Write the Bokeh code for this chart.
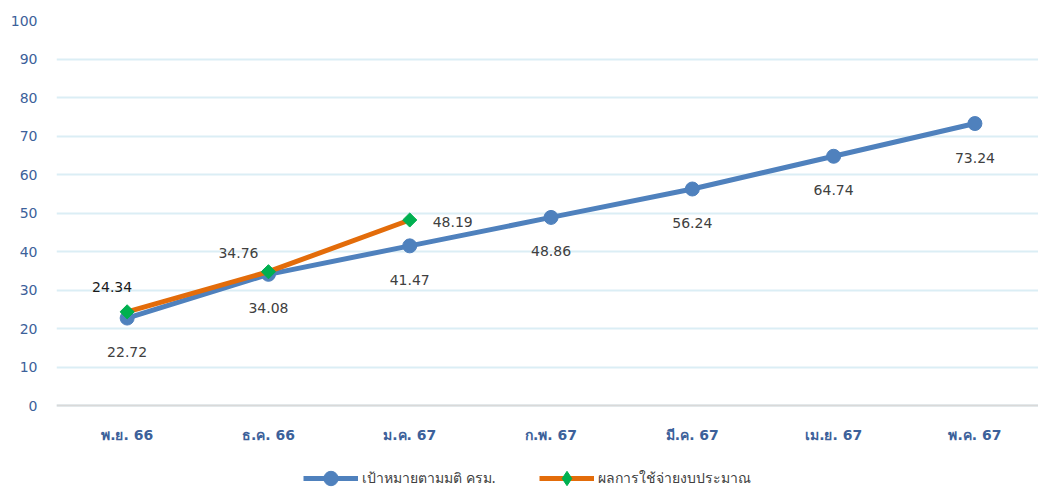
import numpy as np
from bokeh.plotting import figure
from bokeh.models import Range1d, FixedTicker, ColumnDataSource, Legend, LegendItem, Span
from bokeh.core.properties import value
from bokeh.embed import file_html
from bokeh.resources import INLINE

# ---- data ----
months = ["พ.ย. 66", "ธ.ค. 66", "ม.ค. 67", "ก.พ. 67", "มี.ค. 67", "เม.ย. 67", "พ.ค. 67"]
target = [22.72, 34.08, 41.47, 48.86, 56.24, 64.74, 73.24]
actual = [24.34, 34.76, 48.19]
y_ticks = [0, 10, 20, 30, 40, 50, 60, 70, 80, 90, 100]
series_names = ["เป้าหมายตามมติ ครม.", "ผลการใช้จ่ายงบประมาณ"]

# ---- styles ----
BLUE = "#4f81bd"
ORANGE = "#e36c0a"
GREEN = "#00b050"
AXIS_TXT = "#3c619a"
LBL_TXT = "#404040"
FONT = "DejaVu Sans"
THAI_FONT = "Noto Sans"

xt = list(range(len(months)))
xa = list(range(len(actual)))

# frame spans from the top gridline down to the bottom of the picture;
# the y range is extended below 0 so that the category labels and legend fit inside
p = figure(width=1038, height=489, output_backend="svg", toolbar_location=None,
           x_range=Range1d(-0.5, 6.45), y_range=Range1d(-21.8, 100),
           min_border_left=56, min_border_right=0, min_border_top=20, min_border_bottom=0)
p.outline_line_color = None
p.background_fill_color = "white"

p.xaxis.visible = False

p.yaxis.ticker = FixedTicker(ticks=y_ticks)
p.yaxis.major_tick_line_color = None
p.yaxis.minor_tick_line_color = None
p.yaxis.axis_line_color = None
p.yaxis.major_label_text_color = AXIS_TXT
p.yaxis.major_label_text_font = FONT
p.yaxis.major_label_text_font_size = "14px"
p.yaxis.major_label_standoff = 13

p.xgrid.grid_line_color = None
p.ygrid.ticker = FixedTicker(ticks=y_ticks)
p.ygrid.grid_line_color = "#dbeef5"
p.ygrid.grid_line_width = 2

# baseline at zero
p.add_layout(Span(location=0, dimension="width", line_color="#d9d9d9", line_width=2))

# category labels under the baseline
src_m = ColumnDataSource(dict(x=xt, y=[0] * len(months), t=months))
p.text("x", "y", "t", source=src_m, y_offset=29, text_align="center", text_baseline="middle",
       text_color=AXIS_TXT, text_font=value(FONT), text_font_size="14px", text_font_style="bold")

# series
r_tl = p.line(xt, target, line_color=BLUE, line_width=5)
r_tm = p.scatter(xt, target, marker="circle", size=14, fill_color=BLUE, line_color=BLUE)
r_al = p.line(xa, actual, line_color=ORANGE, line_width=5)
r_am = p.scatter(xa, actual, marker="square", angle=np.pi / 4, size=10, fill_color=GREEN, line_color=GREEN)
# zero-size diamond renderer, used only for the legend swatch
r_leg = p.scatter(xa, actual, marker="diamond", size=0, fill_color=GREEN, line_color=GREEN)

# data labels
src_t = ColumnDataSource(dict(x=xt, y=target, t=[f"{v:.2f}" for v in target]))
p.text("x", "y", "t", source=src_t, y_offset=34, text_align="center", text_baseline="middle",
       text_color=LBL_TXT, text_font=value(FONT), text_font_size="14px")
a_dx = [-15, -30, 43]
a_dy = [-25, -19, 2]
a_col = ["#1a1a1a", LBL_TXT, LBL_TXT]
src_a = ColumnDataSource(dict(x=xa, y=actual, t=[f"{v:.2f}" for v in actual], dx=a_dx, dy=a_dy, c=a_col))
p.text("x", "y", "t", source=src_a, x_offset="dx", y_offset="dy", text_align="center",
       text_baseline="middle", text_color="c", text_font=value(FONT), text_font_size="14px")

# legend
legend = Legend(items=[LegendItem(label=series_names[0], renderers=[r_tl, r_tm], index=0),
                       LegendItem(label=series_names[1], renderers=[r_al, r_leg], index=0)],
                orientation="horizontal", location=(247, -7),
                glyph_width=55, glyph_height=36, label_standoff=4, spacing=44,
                padding=0, margin=0, border_line_color=None, background_fill_alpha=0,
                label_text_color=LBL_TXT, label_text_font=THAI_FONT, label_text_font_size="14px",
                label_height=36)
p.add_layout(legend, "center")

open("out.html", "w").write(file_html(p, INLINE))
